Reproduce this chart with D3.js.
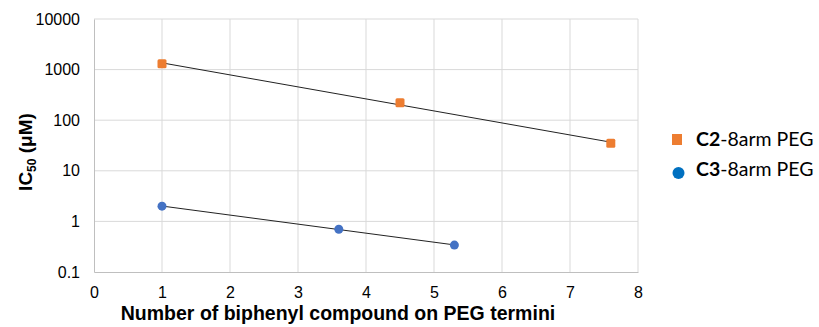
<!DOCTYPE html>
<html>
<head>
<meta charset="utf-8">
<script src="https://cdn.jsdelivr.net/npm/d3@7"></script>
<style>
  body { margin: 0; background: #fff; }
  text { font-family: "Liberation Sans", Arial, sans-serif; }
</style>
</head>
<body>
<div id="chart"></div>
<script>
// chart data
var c2X = [1, 4.5, 7.6];
var c2Y = [1300, 220, 35];
var c3X = [1, 3.6, 5.3];
var c3Y = [2.0, 0.70, 0.34];
var xTicks = [0, 1, 2, 3, 4, 5, 6, 7, 8];
var yTicks = [0.1, 1, 10, 100, 1000, 10000];

var width = 819, height = 327;
var plotLeft = 94, plotRight = 638, plotTop = 19, plotBottom = 272;

var svg = d3.select("#chart").append("svg")
    .attr("width", width)
    .attr("height", height);

var x = d3.scaleLinear().domain([0, 8]).range([plotLeft, plotRight]);
var y = d3.scaleLog().domain([0.1, 10000]).range([plotBottom, plotTop]);

// gridlines
svg.append("g").selectAll("line")
  .data(yTicks.slice(1)).enter().append("line")
    .attr("x1", plotLeft).attr("x2", plotRight)
    .attr("y1", function(d) { return y(d); })
    .attr("y2", function(d) { return y(d); })
    .attr("stroke", "#d9d9d9").attr("stroke-width", 1);

svg.append("g").selectAll("line")
  .data(xTicks.slice(1)).enter().append("line")
    .attr("x1", function(d) { return x(d); })
    .attr("x2", function(d) { return x(d); })
    .attr("y1", plotTop).attr("y2", plotBottom)
    .attr("stroke", "#d9d9d9").attr("stroke-width", 1);

// axes
var xAxis = svg.append("g")
    .attr("transform", "translate(0," + plotBottom + ")")
    .call(d3.axisBottom(x).tickValues(xTicks).tickSize(0).tickPadding(15));
var yAxis = svg.append("g")
    .attr("transform", "translate(" + plotLeft + ",0)")
    .call(d3.axisLeft(y).tickValues(yTicks).tickSize(0).tickPadding(14)
      .tickFormat(function(d) { return d < 1 ? "0.1" : d3.format("d")(d); }));

[xAxis, yAxis].forEach(function(a) {
  a.attr("font-size", 16).attr("font-family", "Liberation Sans, Arial, sans-serif");
  a.select(".domain").attr("stroke", "#bfbfbf");
  a.selectAll("text").attr("fill", "#000");
});

// exponential trendline, least squares on log values like Excel
function expFit(xs, ys) {
  var ly = ys.map(function(v) { return Math.log(v); });
  var mx = d3.mean(xs), my = d3.mean(ly);
  var sxy = 0, sxx = 0;
  for (var i = 0; i < xs.length; i++) {
    sxy += (xs[i] - mx) * (ly[i] - my);
    sxx += (xs[i] - mx) * (xs[i] - mx);
  }
  var b = sxy / sxx, a = my - b * mx;
  var x0 = d3.min(xs), x1 = d3.max(xs);
  return [[x0, Math.exp(a + b * x0)], [x1, Math.exp(a + b * x1)]];
}

var line = d3.line()
    .x(function(d) { return x(d[0]); })
    .y(function(d) { return y(d[1]); });

[[c2X, c2Y], [c3X, c3Y]].forEach(function(s) {
  svg.append("path")
    .attr("d", line(expFit(s[0], s[1])))
    .attr("fill", "none")
    .attr("stroke", "#222")
    .attr("stroke-width", 1);
});

// C2 markers
svg.append("g").selectAll("rect")
  .data(d3.zip(c2X, c2Y)).enter().append("rect")
    .attr("x", function(d) { return x(d[0]) - 4.5; })
    .attr("y", function(d) { return y(d[1]) - 4.5; })
    .attr("width", 9).attr("height", 9)
    .attr("rx", 1.5)
    .attr("fill", "#ED7D31");

// C3 markers
svg.append("g").selectAll("circle")
  .data(d3.zip(c3X, c3Y)).enter().append("circle")
    .attr("cx", function(d) { return x(d[0]); })
    .attr("cy", function(d) { return y(d[1]); })
    .attr("r", 4.5)
    .attr("fill", "#4472C4");

// axis titles
svg.append("text")
    .attr("x", 338)
    .attr("y", 320)
    .attr("text-anchor", "middle")
    .attr("font-size", 19.5)
    .attr("font-weight", "bold")
    .text("Number of biphenyl compound on PEG termini");

var yt = svg.append("text")
    .attr("transform", "translate(32,152) rotate(-90)")
    .attr("text-anchor", "middle")
    .attr("font-size", 19)
    .attr("font-weight", "bold");
yt.append("tspan").text("IC");
yt.append("tspan").attr("font-size", 12).attr("dy", 4).text("50");
yt.append("tspan").attr("dy", -4).text(" (\u03bcM)");

// legend
var legend = svg.append("g");
legend.append("rect")
    .attr("x", 672).attr("y", 134).attr("width", 10).attr("height", 11)
    .attr("fill", "#ED7D31");
legend.append("circle")
    .attr("cx", 678.5).attr("cy", 173).attr("r", 6)
    .attr("fill", "#0070C0");

var labels = [["C2", "-8arm PEG", 146], ["C3", "-8arm PEG", 176]];
labels.forEach(function(l) {
  var t = legend.append("text")
      .attr("x", 696).attr("y", l[2])
      .attr("font-size", 19.5)
      .style("font-family", "Lato, 'Open Sans', sans-serif")
      .attr("fill", "#000");
  t.append("tspan").attr("font-weight", "bold").text(l[0]);
  t.append("tspan").text(l[1]);
});
</script>
</body>
</html>
